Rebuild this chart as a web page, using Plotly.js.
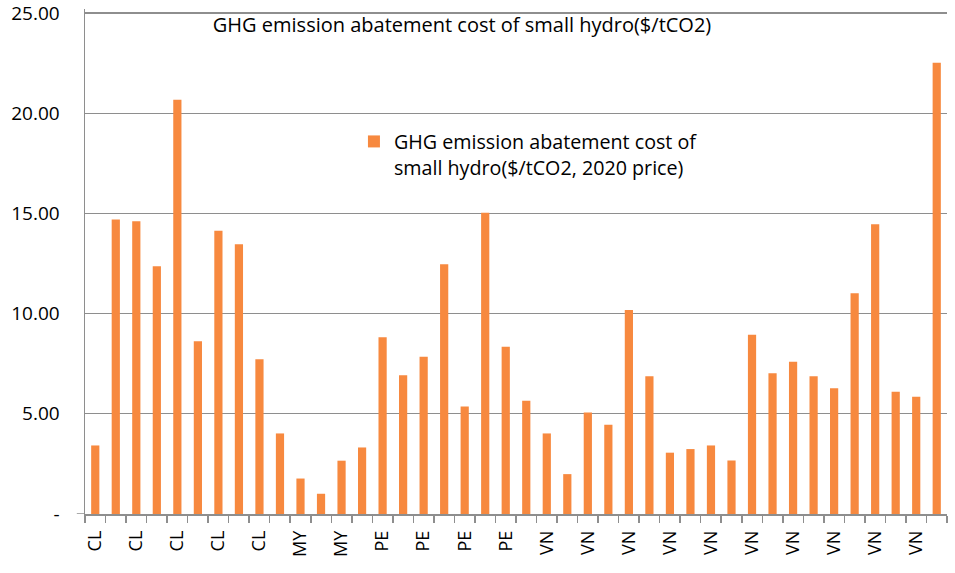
<!DOCTYPE html>
<html>
<head>
<meta charset="utf-8">
<script src="https://cdn.plot.ly/plotly-3.0.1.min.js"></script>
<style>html,body{margin:0;padding:0;background:#fff;}#chart{width:955px;height:573px;}</style>
</head>
<body>
<div id="chart"></div>
<script>
// Data
var countryLabels = ['CL','CL','CL','CL','CL','MY','MY','PE','PE','PE','PE',
                     'VN','VN','VN','VN','VN','VN','VN','VN','VN','VN'];
var costValues = [3.42, 14.70, 14.61, 12.36, 20.67, 8.62, 14.13, 13.46, 7.72, 4.02,
                  1.77, 1.01, 2.66, 3.32, 8.82, 6.93, 7.85, 12.46, 5.37, 15.03,
                  8.35, 5.65, 4.02, 1.99, 5.07, 4.45, 10.18, 6.88, 3.06, 3.24,
                  3.42, 2.67, 8.95, 7.02, 7.60, 6.87, 6.27, 11.01, 14.46, 6.10,
                  5.85, 22.52];
var yTickValues = [0, 5, 10, 15, 20, 25];
var yTickLabels = ['-', '5.00', '10.00', '15.00', '20.00', '25.00'];
var seriesName = 'GHG emission abatement cost of<br>small hydro($/tCO2, 2020 price)';
var chartTitle = 'GHG emission abatement cost of small hydro($/tCO2)';

var xIndex = costValues.map(function(_, i){ return i; });
var labelPositions = countryLabels.map(function(_, i){ return i * 2; });

var FONT = '"Open Sans", "Liberation Sans", sans-serif';
var GRID = '#8E8E8E';

var trace = {
  type: 'bar',
  x: xIndex,
  y: costValues,
  name: seriesName,
  width: 0.4,
  marker: {color: '#F7893F', line: {width: 0}},
  showlegend: true,
  hoverinfo: 'y'
};

var layout = {
  width: 955,
  height: 573,
  margin: {l: 85, r: 8, t: 9, b: 59},
  paper_bgcolor: '#fff',
  plot_bgcolor: '#fff',
  font: {family: FONT, size: 18, color: '#000'},
  title: {
    text: chartTitle,
    font: {family: FONT, size: 20, color: '#000'},
    xref: 'container', yref: 'container',
    x: 0.4838, xanchor: 'center',
    y: 0.956, yanchor: 'middle'
  },
  showlegend: true,
  legend: {
    x: 0.312, xanchor: 'left',
    y: 0.776, yanchor: 'top',
    bgcolor: 'rgba(0,0,0,0)',
    borderwidth: 0,
    valign: 'top',
    font: {family: FONT, size: 19.7, color: '#000'}
  },
  xaxis: {
    range: [-0.5, 41.5],
    tickmode: 'array',
    tickvals: labelPositions,
    ticktext: countryLabels,
    tickangle: -90,
    ticks: '',
    ticklabelstandoff: 8,
    ticklabeloverflow: 'allow',
    showgrid: false,
    zeroline: false,
    showline: true,
    linecolor: GRID,
    linewidth: 1.5,
    tickfont: {family: FONT, size: 18, color: '#000'},
    minor: {tickmode: 'linear', tick0: -0.5, dtick: 1, ticks: 'outside', ticklen: 7, tickcolor: GRID, tickwidth: 1.5, showgrid: false},
    fixedrange: true
  },
  yaxis: {
    range: [0, 25.2],
    tickmode: 'array',
    tickvals: yTickValues,
    ticktext: yTickLabels,
    ticks: '',
    ticklabelstandoff: 20,
    ticklabeloverflow: 'allow',
    showgrid: true,
    gridcolor: GRID,
    gridwidth: 1.3,
    zeroline: false,
    showline: true,
    linecolor: GRID,
    linewidth: 1.5,
    tickfont: {family: FONT, size: 19, color: '#000'},
    fixedrange: true
  },
  shapes: [{
    type: 'line', xref: 'paper', yref: 'y',
    x0: -0.0095, x1: 0, y0: 0, y1: 0,
    line: {color: GRID, width: 1.5}
  }]
};

Plotly.newPlot('chart', [trace], layout, {displayModeBar: false, staticPlot: true});
</script>
</body>
</html>
